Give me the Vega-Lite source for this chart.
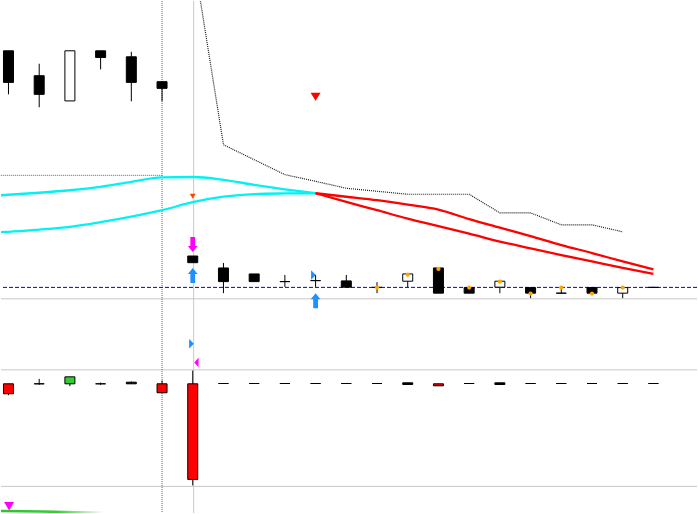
{
  "$schema": "https://vega.github.io/schema/vega-lite/v6.json",
  "width": 698,
  "height": 514,
  "autosize": {"type": "fit", "contains": "padding"},
  "padding": 0,
  "background": "white",
  "config": {"view": {"stroke": null}, "legend": {"disable": true}, "scale": {"continuousPadding": 0}},
  "datasets": {
    "separators": [{"v": 299}, {"v": 370.3}, {"v": 487.3}],
    "levels": [{"i": -0.25, "i2": 5, "v": 175}],
    "indicator": [
      {"i": 6, "v": -48}, {"i": 7, "v": 144.3}, {"i": 8, "v": 159.3}, {"i": 9, "v": 174.3},
      {"i": 10, "v": 181}, {"i": 11, "v": 188}, {"i": 12, "v": 191}, {"i": 13, "v": 194},
      {"i": 14, "v": 194}, {"i": 15, "v": 194}, {"i": 16, "v": 212.7}, {"i": 17, "v": 212.7},
      {"i": 18, "v": 224.7}, {"i": 19, "v": 224.7}, {"i": 20, "v": 231.7}
    ],
    "bands": [
      {"seg": "u1", "trend": "up", "i": -0.25, "v": 195}, {"seg": "u1", "trend": "up", "i": 0, "v": 194.5},
      {"seg": "u1", "trend": "up", "i": 1, "v": 192.5}, {"seg": "u1", "trend": "up", "i": 2, "v": 190},
      {"seg": "u1", "trend": "up", "i": 3, "v": 186.5}, {"seg": "u1", "trend": "up", "i": 4, "v": 181.5},
      {"seg": "u1", "trend": "up", "i": 5, "v": 177}, {"seg": "u1", "trend": "up", "i": 6, "v": 176.7},
      {"seg": "u1", "trend": "up", "i": 7, "v": 179.5}, {"seg": "u1", "trend": "up", "i": 8, "v": 184.5},
      {"seg": "u1", "trend": "up", "i": 9, "v": 189}, {"seg": "u1", "trend": "up", "i": 10, "v": 193},
      {"seg": "l1", "trend": "up", "i": -0.25, "v": 232}, {"seg": "l1", "trend": "up", "i": 0, "v": 231.7},
      {"seg": "l1", "trend": "up", "i": 1, "v": 229.5}, {"seg": "l1", "trend": "up", "i": 2, "v": 226.7},
      {"seg": "l1", "trend": "up", "i": 3, "v": 222}, {"seg": "l1", "trend": "up", "i": 4, "v": 216.5},
      {"seg": "l1", "trend": "up", "i": 5, "v": 210}, {"seg": "l1", "trend": "up", "i": 6, "v": 202},
      {"seg": "l1", "trend": "up", "i": 7, "v": 196.5}, {"seg": "l1", "trend": "up", "i": 8, "v": 193.8},
      {"seg": "l1", "trend": "up", "i": 9, "v": 193.2}, {"seg": "l1", "trend": "up", "i": 10, "v": 193},
      {"seg": "u2", "trend": "down", "i": 10, "v": 193}, {"seg": "u2", "trend": "down", "i": 11, "v": 196.5},
      {"seg": "u2", "trend": "down", "i": 12, "v": 200}, {"seg": "u2", "trend": "down", "i": 13, "v": 204.5},
      {"seg": "u2", "trend": "down", "i": 14, "v": 209.5}, {"seg": "u2", "trend": "down", "i": 15, "v": 219},
      {"seg": "u2", "trend": "down", "i": 16, "v": 227.5}, {"seg": "u2", "trend": "down", "i": 17, "v": 236},
      {"seg": "u2", "trend": "down", "i": 18, "v": 245}, {"seg": "u2", "trend": "down", "i": 19, "v": 253},
      {"seg": "u2", "trend": "down", "i": 20, "v": 261.5}, {"seg": "u2", "trend": "down", "i": 21, "v": 269.5},
      {"seg": "l2", "trend": "down", "i": 10, "v": 193}, {"seg": "l2", "trend": "down", "i": 11, "v": 201.7},
      {"seg": "l2", "trend": "down", "i": 12, "v": 210}, {"seg": "l2", "trend": "down", "i": 13, "v": 218.5},
      {"seg": "l2", "trend": "down", "i": 14, "v": 226}, {"seg": "l2", "trend": "down", "i": 15, "v": 233.5},
      {"seg": "l2", "trend": "down", "i": 16, "v": 241.5}, {"seg": "l2", "trend": "down", "i": 17, "v": 248.3},
      {"seg": "l2", "trend": "down", "i": 18, "v": 255}, {"seg": "l2", "trend": "down", "i": 19, "v": 261.5},
      {"seg": "l2", "trend": "down", "i": 20, "v": 268}, {"seg": "l2", "trend": "down", "i": 21, "v": 274}
    ],
    "candles": [
      {"i": 0, "o": 50, "h": 50, "l": 93.7, "c": 81.7, "kind": "bear"},
      {"i": 1, "o": 75, "h": 63, "l": 106.7, "c": 93.7, "kind": "bear"},
      {"i": 2, "o": 100.3, "h": 50, "l": 100.3, "c": 50, "kind": "bull"},
      {"i": 3, "o": 50, "h": 50, "l": 68.7, "c": 56.7, "kind": "bear"},
      {"i": 4, "o": 56, "h": 51, "l": 100.7, "c": 81.7, "kind": "bear"},
      {"i": 5, "o": 81, "h": 81, "l": 100.7, "c": 87.7, "kind": "bear"},
      {"i": 6, "o": 256, "h": 256, "l": 262.7, "c": 262.7, "kind": "bear"},
      {"i": 7, "o": 268, "h": 263, "l": 293.3, "c": 281.7, "kind": "bear"},
      {"i": 8, "o": 274, "h": 274, "l": 281.7, "c": 281.7, "kind": "bear"},
      {"i": 9, "o": 281.7, "h": 275, "l": 287, "c": 281.7, "kind": "bear"},
      {"i": 10, "o": 280.7, "h": 275, "l": 287, "c": 280.7, "kind": "bear"},
      {"i": 11, "o": 281, "h": 275, "l": 287.3, "c": 287.3, "kind": "bear"},
      {"i": 12, "o": 287.5, "h": 282.3, "l": 293.3, "c": 287.5, "kind": "bear"},
      {"i": 13, "o": 281.3, "h": 274, "l": 287.3, "c": 274, "kind": "bull"},
      {"i": 14, "o": 268, "h": 268, "l": 293.3, "c": 293.3, "kind": "bear"},
      {"i": 15, "o": 287.7, "h": 287.7, "l": 293.3, "c": 293.3, "kind": "bear"},
      {"i": 16, "o": 287.3, "h": 281.3, "l": 293.3, "c": 281.3, "kind": "bull"},
      {"i": 17, "o": 287.7, "h": 287.7, "l": 298.3, "c": 293.3, "kind": "bear"},
      {"i": 18, "o": 293.3, "h": 287.7, "l": 293.3, "c": 293.3, "kind": "bear"},
      {"i": 19, "o": 287.7, "h": 287.7, "l": 293.3, "c": 293.3, "kind": "bear"},
      {"i": 20, "o": 293.3, "h": 287.7, "l": 298.3, "c": 287.7, "kind": "bull"},
      {"i": 21, "o": 287.5, "h": 287.5, "l": 287.5, "c": 287.5, "kind": "bear"},
      {"i": 0, "o": 384.3, "h": 384.3, "l": 395.7, "c": 394.3, "kind": "oscbear"},
      {"i": 1, "o": 384.3, "h": 379.3, "l": 385.3, "c": 384.3, "kind": "oscbear"},
      {"i": 2, "o": 384.3, "h": 377.3, "l": 386.7, "c": 377.3, "kind": "oscbull"},
      {"i": 3, "o": 384.3, "h": 383, "l": 385.3, "c": 384.3, "kind": "oscbear"},
      {"i": 4, "o": 382.7, "h": 382, "l": 384.3, "c": 384.3, "kind": "bear"},
      {"i": 5, "o": 384.3, "h": 381, "l": 393.3, "c": 393.3, "kind": "oscbear"},
      {"i": 6, "o": 384.3, "h": 371, "l": 486.3, "c": 480.3, "kind": "oscbear"},
      {"i": 7, "o": 384, "h": 384, "l": 384, "c": 384, "kind": "oscbear"},
      {"i": 8, "o": 384, "h": 384, "l": 384, "c": 384, "kind": "oscbear"},
      {"i": 9, "o": 384, "h": 384, "l": 384, "c": 384, "kind": "oscbear"},
      {"i": 10, "o": 384, "h": 384, "l": 384, "c": 384, "kind": "oscbear"},
      {"i": 11, "o": 384, "h": 384, "l": 384, "c": 384, "kind": "oscbear"},
      {"i": 12, "o": 384, "h": 384, "l": 384, "c": 384, "kind": "oscbear"},
      {"i": 13, "o": 383.3, "h": 383.3, "l": 385, "c": 385, "kind": "bear"},
      {"i": 14, "o": 384.3, "h": 384.3, "l": 386.3, "c": 386.3, "kind": "oscbear"},
      {"i": 15, "o": 384, "h": 384, "l": 384, "c": 384, "kind": "oscbear"},
      {"i": 16, "o": 383.3, "h": 383.3, "l": 385, "c": 385, "kind": "bear"},
      {"i": 17, "o": 384, "h": 384, "l": 384, "c": 384, "kind": "oscbear"},
      {"i": 18, "o": 384, "h": 384, "l": 384, "c": 384, "kind": "oscbear"},
      {"i": 19, "o": 384, "h": 384, "l": 384, "c": 384, "kind": "oscbear"},
      {"i": 20, "o": 384, "h": 384, "l": 384, "c": 384, "kind": "oscbear"},
      {"i": 21, "o": 384, "h": 384, "l": 384, "c": 384, "kind": "oscbear"}
    ],
    "dots": [
      {"i": 12, "v": 287.7}, {"i": 13, "v": 274.7}, {"i": 14, "v": 269}, {"i": 15, "v": 287.7},
      {"i": 16, "v": 281.7}, {"i": 17, "v": 293.7}, {"i": 18, "v": 287.7}, {"i": 19, "v": 293.7},
      {"i": 20, "v": 287.7}
    ],
    "markers": [
      {"kind": "sell", "i": 10, "v": 96},
      {"kind": "small", "i": 6, "v": 196},
      {"kind": "arrowdown", "i": 6, "v": 244.5},
      {"kind": "arrowup", "i": 6, "v": 275.5},
      {"kind": "arrowup", "i": 10, "v": 301},
      {"kind": "flagright", "i": 9.93, "v": 275},
      {"kind": "flagright", "i": 5.96, "v": 344},
      {"kind": "flagleft", "i": 6.12, "v": 363},
      {"kind": "tridown", "i": 0.02, "v": 507}
    ],
    "tail": [
      {"i": -0.25, "v": 512}, {"i": 1.5, "v": 512.8}, {"i": 3.1, "v": 513.6}
    ]
  },
  "layer": [
    {
      "data": {"name": "separators"},
      "mark": {"type": "rule", "color": "#c8c8c8", "strokeWidth": 1},
      "encoding": {"y": {"field": "v", "type": "quantitative", "scale": {"domain": [0, 514], "reverse": true, "nice": false, "zero": false}, "axis": null}}
    },
    {
      "data": {"values": [{"i": 5}]},
      "mark": {"type": "rule", "color": "#606060", "strokeWidth": 1, "strokeDash": [1, 1]},
      "encoding": {"x": {"field": "i", "type": "quantitative", "scale": {"domain": [-0.2435, 22.4188], "nice": false, "zero": false, "padding": 0}, "axis": null}}
    },
    {
      "data": {"values": [{"i": 6.03}]},
      "mark": {"type": "rule", "color": "#c8c8c8", "strokeWidth": 1},
      "encoding": {"x": {"field": "i", "type": "quantitative", "scale": {"domain": [-0.2435, 22.4188], "nice": false, "zero": false, "padding": 0}, "axis": null}}
    },
    {
      "data": {"values": [{"v": 287.5}]},
      "mark": {"type": "rule", "color": "#0000DD", "strokeWidth": 1, "strokeDash": [4, 2]},
      "encoding": {"y": {"field": "v", "type": "quantitative", "scale": {"domain": [0, 514], "reverse": true, "nice": false, "zero": false}, "axis": null}}
    },
    {
      "data": {"name": "levels"},
      "mark": {"type": "rule", "color": "#606060", "strokeWidth": 1, "strokeDash": [1, 1]},
      "encoding": {
        "x": {"field": "i", "type": "quantitative", "scale": {"domain": [-0.2435, 22.4188], "nice": false, "zero": false, "padding": 0}, "axis": null},
        "x2": {"field": "i2"},
        "y": {"field": "v", "type": "quantitative", "scale": {"domain": [0, 514], "reverse": true, "nice": false, "zero": false}, "axis": null}
      }
    },
    {
      "data": {"name": "indicator"},
      "mark": {"type": "line", "color": "#1a1a1a", "strokeWidth": 1.2, "strokeDash": [1, 1], "clip": true},
      "encoding": {
        "x": {"field": "i", "type": "quantitative", "scale": {"domain": [-0.2435, 22.4188], "nice": false, "zero": false, "padding": 0}, "axis": null},
        "y": {"field": "v", "type": "quantitative", "scale": {"domain": [0, 514], "reverse": true, "nice": false, "zero": false}, "axis": null}
      }
    },
    {
      "data": {"name": "bands"},
      "mark": {"type": "line", "strokeWidth": 2.3, "clip": true, "interpolate": "monotone"},
      "encoding": {
        "x": {"field": "i", "type": "quantitative", "scale": {"domain": [-0.2435, 22.4188], "nice": false, "zero": false, "padding": 0}, "axis": null},
        "y": {"field": "v", "type": "quantitative", "scale": {"domain": [0, 514], "reverse": true, "nice": false, "zero": false}, "axis": null},
        "color": {"field": "trend", "type": "nominal", "scale": {"domain": ["up", "down"], "range": ["#00F2F2", "#FF0000"]}, "legend": null},
        "detail": {"field": "seg", "type": "nominal"}
      }
    },
    {
      "data": {"name": "candles"},
      "mark": {"type": "rule", "color": "#000000", "strokeWidth": 1},
      "encoding": {
        "x": {"field": "i", "type": "quantitative", "scale": {"domain": [-0.2435, 22.4188], "nice": false, "zero": false, "padding": 0}, "axis": null},
        "y": {"field": "h", "type": "quantitative", "scale": {"domain": [0, 514], "reverse": true, "nice": false, "zero": false}, "axis": null},
        "y2": {"field": "l"}
      }
    },
    {
      "data": {"name": "candles"},
      "mark": {"type": "bar", "width": 10, "stroke": "#000000", "strokeWidth": 1},
      "encoding": {
        "x": {"field": "i", "type": "quantitative", "scale": {"domain": [-0.2435, 22.4188], "nice": false, "zero": false, "padding": 0}, "axis": null},
        "y": {"field": "o", "type": "quantitative", "scale": {"domain": [0, 514], "reverse": true, "nice": false, "zero": false}, "axis": null},
        "y2": {"field": "c"},
        "fill": {"field": "kind", "type": "nominal", "scale": {"domain": ["bear", "bull", "oscbear", "oscbull"], "range": ["#000000", "#FFFFFF", "#FF0000", "#32CD32"]}, "legend": null}
      }
    },
    {
      "data": {"name": "dots"},
      "mark": {"type": "point", "shape": "circle", "filled": true, "color": "#FFA500", "size": 18, "opacity": 1},
      "encoding": {
        "x": {"field": "i", "type": "quantitative", "scale": {"domain": [-0.2435, 22.4188], "nice": false, "zero": false, "padding": 0}, "axis": null},
        "y": {"field": "v", "type": "quantitative", "scale": {"domain": [0, 514], "reverse": true, "nice": false, "zero": false}, "axis": null}
      }
    },
    {
      "data": {"name": "markers"},
      "transform": [{"filter": "datum.kind === 'sell'"}],
      "mark": {"type": "point", "shape": "M-1,-0.8L1,-0.8L0,0.8Z", "filled": true, "color": "#FF0000", "size": 100, "opacity": 1},
      "encoding": {
        "x": {"field": "i", "type": "quantitative", "scale": {"domain": [-0.2435, 22.4188], "nice": false, "zero": false, "padding": 0}, "axis": null},
        "y": {"field": "v", "type": "quantitative", "scale": {"domain": [0, 514], "reverse": true, "nice": false, "zero": false}, "axis": null}
      }
    },
    {
      "data": {"name": "markers"},
      "transform": [{"filter": "datum.kind === 'small'"}],
      "mark": {"type": "point", "shape": "M-1,-0.8L1,-0.8L0,0.8Z", "filled": true, "color": "#FF4500", "size": 36, "opacity": 1},
      "encoding": {
        "x": {"field": "i", "type": "quantitative", "scale": {"domain": [-0.2435, 22.4188], "nice": false, "zero": false, "padding": 0}, "axis": null},
        "y": {"field": "v", "type": "quantitative", "scale": {"domain": [0, 514], "reverse": true, "nice": false, "zero": false}, "axis": null}
      }
    },
    {
      "data": {"name": "markers"},
      "transform": [{"filter": "datum.kind === 'tridown'"}],
      "mark": {"type": "point", "shape": "M-1,-0.8L1,-0.8L0,0.9Z", "filled": true, "color": "#FF00FF", "size": 100, "opacity": 1},
      "encoding": {
        "x": {"field": "i", "type": "quantitative", "scale": {"domain": [-0.2435, 22.4188], "nice": false, "zero": false, "padding": 0}, "axis": null},
        "y": {"field": "v", "type": "quantitative", "scale": {"domain": [0, 514], "reverse": true, "nice": false, "zero": false}, "axis": null}
      }
    },
    {
      "data": {"name": "markers"},
      "transform": [{"filter": "datum.kind === 'arrowdown'"}],
      "mark": {"type": "point", "shape": "M-0.32,-1L0.32,-1L0.32,0.2L0.65,0.2L0,1L-0.65,0.2L-0.32,0.2Z", "filled": true, "color": "#FF00FF", "size": 225, "opacity": 1},
      "encoding": {
        "x": {"field": "i", "type": "quantitative", "scale": {"domain": [-0.2435, 22.4188], "nice": false, "zero": false, "padding": 0}, "axis": null},
        "y": {"field": "v", "type": "quantitative", "scale": {"domain": [0, 514], "reverse": true, "nice": false, "zero": false}, "axis": null}
      }
    },
    {
      "data": {"name": "markers"},
      "transform": [{"filter": "datum.kind === 'arrowup'"}],
      "mark": {"type": "point", "shape": "M-0.32,1L0.32,1L0.32,-0.2L0.65,-0.2L0,-1L-0.65,-0.2L-0.32,-0.2Z", "filled": true, "color": "#1E90FF", "size": 225, "opacity": 1},
      "encoding": {
        "x": {"field": "i", "type": "quantitative", "scale": {"domain": [-0.2435, 22.4188], "nice": false, "zero": false, "padding": 0}, "axis": null},
        "y": {"field": "v", "type": "quantitative", "scale": {"domain": [0, 514], "reverse": true, "nice": false, "zero": false}, "axis": null}
      }
    },
    {
      "data": {"name": "markers"},
      "transform": [{"filter": "datum.kind === 'flagright'"}],
      "mark": {"type": "point", "shape": "M-0.5,-1L0.5,0L-0.5,1Z", "filled": true, "color": "#1E90FF", "size": 90, "opacity": 1},
      "encoding": {
        "x": {"field": "i", "type": "quantitative", "scale": {"domain": [-0.2435, 22.4188], "nice": false, "zero": false, "padding": 0}, "axis": null},
        "y": {"field": "v", "type": "quantitative", "scale": {"domain": [0, 514], "reverse": true, "nice": false, "zero": false}, "axis": null}
      }
    },
    {
      "data": {"name": "markers"},
      "transform": [{"filter": "datum.kind === 'flagleft'"}],
      "mark": {"type": "point", "shape": "M0.45,-1L-0.45,0L0.45,1Z", "filled": true, "color": "#FF00FF", "size": 90, "opacity": 1},
      "encoding": {
        "x": {"field": "i", "type": "quantitative", "scale": {"domain": [-0.2435, 22.4188], "nice": false, "zero": false, "padding": 0}, "axis": null},
        "y": {"field": "v", "type": "quantitative", "scale": {"domain": [0, 514], "reverse": true, "nice": false, "zero": false}, "axis": null}
      }
    },
    {
      "data": {"name": "tail"},
      "mark": {"type": "line", "strokeWidth": 2.5, "clip": true, "interpolate": "monotone",
        "stroke": {"gradient": "linear", "x1": 0, "y1": 0, "x2": 1, "y2": 0,
          "stops": [{"offset": 0, "color": "#2EC42E"}, {"offset": 0.55, "color": "#3CCB3C"}, {"offset": 1, "color": "#FFFFFF"}]}},
      "encoding": {
        "x": {"field": "i", "type": "quantitative", "scale": {"domain": [-0.2435, 22.4188], "nice": false, "zero": false, "padding": 0}, "axis": null},
        "y": {"field": "v", "type": "quantitative", "scale": {"domain": [0, 514], "reverse": true, "nice": false, "zero": false}, "axis": null}
      }
    }
  ]
}
